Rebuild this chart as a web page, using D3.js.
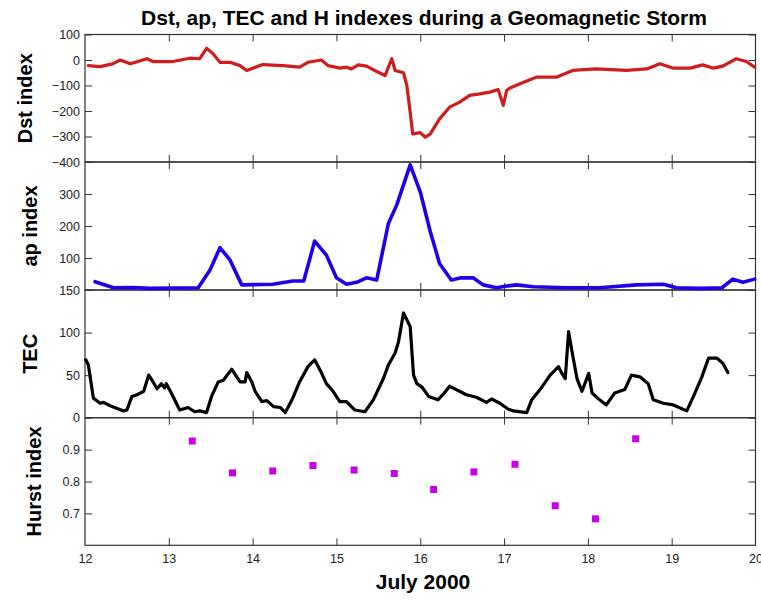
<!DOCTYPE html>
<html>
<head>
<meta charset="utf-8">
<style>
    body { margin: 0; background: #fff; }
    svg { display: block; font-family: Arial, "Liberation Sans", sans-serif; }
    .tick text { fill: #222; font-size: 12.5px; }
    .tick line { stroke: #333; }
    .frame { fill: none; stroke: #333; stroke-width: 1.2; }
    .ylab, .xlab, .title { font-weight: bold; fill: #000; }
</style>
</head>
<body>
<svg width="761" height="601"></svg>
<script src="https://cdn.jsdelivr.net/npm/d3@7"></script>
<script>
//---------------- DATA ----------------//
// days of July 2000
let dayTicks = [12, 13, 14, 15, 16, 17, 18, 19, 20];

let dstDay = [12.04, 12.18, 12.33, 12.42, 12.54, 12.74, 12.81, 13.05, 13.25, 13.37, 13.45, 13.53, 13.61, 13.73,
    13.85, 13.93, 14.12, 14.36, 14.56, 14.66, 14.82, 14.90, 15.04, 15.12, 15.18, 15.26, 15.36, 15.48, 15.58,
    15.66, 15.70, 15.80, 15.84, 15.88, 15.91, 16.00, 16.06, 16.12, 16.23, 16.35, 16.47, 16.59, 16.71, 16.83,
    16.93, 16.99, 17.03, 17.07, 17.19, 17.39, 17.63, 17.82, 18.10, 18.46, 18.70, 18.86, 19.02, 19.22, 19.37,
    19.50, 19.61, 19.77, 19.89, 19.99];
let dstVal = [-22, -26, -15, 0, -15, 5, -6, -6, 7, 5, 46, 24, -9, -9,
    -22, -41, -18, -22, -28, -9, 0, -22, -32, -28, -35, -19, -24, -45, -61,
    5, -41, -50, -100, -205, -290, -285, -303, -290, -231, -185, -165, -139, -133, -126,
    -116, -178, -120, -110, -93, -67, -67, -41, -35, -41, -35, -15, -32, -32, -19,
    -32, -24, 5, -6, -28];

let apDay = [12.12, 12.34, 12.57, 12.78, 13.35, 13.49, 13.61, 13.73, 13.87, 14.24, 14.48, 14.61, 14.74, 14.88,
    15.00, 15.12, 15.24, 15.36, 15.48, 15.62, 15.72, 15.88, 16.00, 16.12, 16.23, 16.37, 16.49, 16.63, 16.75,
    16.91, 17.05, 17.15, 17.35, 17.75, 18.14, 18.58, 18.90, 19.06, 19.34, 19.60, 19.73, 19.85, 19.99];
let apVal = [26, 7, 8, 5, 7, 62, 132, 94, 16, 18, 28, 28, 153, 109,
    38, 18, 24, 38, 31, 208, 266, 391, 307, 182, 83, 31, 38, 38, 16,
    7, 13, 16, 10, 7, 7, 16, 18, 7, 5, 7, 34, 24, 34];

let tecDay = [12.01, 12.04, 12.10, 12.18, 12.22, 12.30, 12.46, 12.50, 12.56, 12.62, 12.70, 12.76, 12.80, 12.86,
    12.91, 12.95, 12.97, 13.03, 13.13, 13.23, 13.31, 13.37, 13.45, 13.51, 13.59, 13.65, 13.75, 13.85, 13.91,
    13.93, 13.99, 14.03, 14.11, 14.17, 14.25, 14.33, 14.39, 14.47, 14.56, 14.66, 14.74, 14.82, 14.88, 14.96,
    15.04, 15.12, 15.22, 15.34, 15.44, 15.56, 15.62, 15.70, 15.74, 15.80, 15.84, 15.88, 15.92, 15.96, 16.02,
    16.10, 16.21, 16.27, 16.35, 16.43, 16.55, 16.67, 16.79, 16.85, 16.95, 17.05, 17.11, 17.27, 17.33, 17.43,
    17.55, 17.65, 17.69, 17.73, 17.77, 17.81, 17.87, 17.93, 18.01, 18.05, 18.14, 18.22, 18.32, 18.44, 18.52,
    18.62, 18.72, 18.78, 18.90, 19.02, 19.18, 19.26, 19.36, 19.44, 19.54, 19.61, 19.67];
let tecVal = [68, 62, 23, 17, 18, 14, 8, 9, 25, 27, 31, 50, 44, 34,
    40, 35, 40, 29, 9, 12, 7, 8, 6, 25, 42, 44, 57, 42, 42,
    53, 42, 31, 19, 20, 13, 12, 6, 21, 42, 60, 68, 53, 40, 31,
    19, 19, 9, 7, 21, 46, 62, 76, 89, 123, 115, 107, 50, 40, 36,
    25, 21, 27, 37, 33, 27, 24, 18, 22, 17, 10, 8, 6, 21, 33,
    50, 60, 52, 46, 101, 78, 46, 31, 52, 29, 21, 15, 29, 33, 50,
    48, 40, 21, 17, 15, 8, 25, 48, 70, 70, 64, 53];

let hurstDay = [13.28, 13.76, 14.24, 14.72, 15.21, 15.69, 16.16, 16.64, 17.13, 17.61, 18.09, 18.57];
let hurstVal = [0.927, 0.827, 0.833, 0.850, 0.836, 0.825, 0.775, 0.830, 0.854, 0.724, 0.683, 0.934];

let dstTicks = [100, 0, -100, -200, -300, -400];
let apTicks = [100, 200, 300];
let tecTicks = [0, 50, 100, 150];
let hurstTicks = [0.7, 0.8, 0.9];

//---------------- SCALES ----------------//
let svg = d3.select("svg");
svg.append("rect").attr("width", 761).attr("height", 601).attr("fill", "#fff");

let x = d3.scaleLinear().domain([12, 20]).range([85, 755.5]);

let panels = [
    {name: "Dst index", y: d3.scaleLinear().domain([-400, 100]).range([162, 34.5]), ticks: dstTicks, fmt: d3.format("d"), labX: 32},
    {name: "ap index", y: d3.scaleLinear().domain([0, 400]).range([290, 162]), ticks: apTicks, fmt: d3.format("d"), labX: 37},
    {name: "TEC", y: d3.scaleLinear().domain([0, 150]).range([417.7, 290]), ticks: tecTicks, fmt: d3.format("d"), labX: 37},
    {name: "Hurst index", y: d3.scaleLinear().domain([0.6, 1.0]).range([545.3, 417.7]), ticks: hurstTicks, fmt: d3.format(".1f"), labX: 41}
];

//---------------- AXES / FRAMES ----------------//
panels.forEach(function(p, i) {
    let top = p.y.range()[1], bot = p.y.range()[0];

    svg.append("rect").attr("class", "frame")
        .attr("x", x(12)).attr("y", top)
        .attr("width", x(20) - x(12)).attr("height", bot - top);

    svg.append("g").attr("transform", `translate(${x(12)},0)`)
        .call(d3.axisLeft(p.y).tickValues(p.ticks).tickSize(-7).tickPadding(5).tickFormat(p.fmt))
        .call(g => g.select(".domain").remove())
        .attr("font-size", null).attr("font-family", null);

    svg.append("g").attr("transform", `translate(${x(20)},0)`)
        .call(d3.axisRight(p.y).tickValues(p.ticks).tickSize(-7).tickFormat(""))
        .call(g => g.select(".domain").remove());

    svg.append("g").attr("transform", `translate(0,${top})`)
        .call(d3.axisTop(x).tickValues(dayTicks.slice(1, -1)).tickSize(-7).tickFormat(""))
        .call(g => g.select(".domain").remove());

    let bottomAxis = d3.axisBottom(x).tickValues(i == 3 ? dayTicks : dayTicks.slice(1, -1)).tickSize(-7).tickPadding(9);
    if (i != 3) bottomAxis.tickFormat("");
    svg.append("g").attr("transform", `translate(0,${bot})`)
        .call(bottomAxis)
        .call(g => g.select(".domain").remove())
        .call(g => g.selectAll(".tick line").filter(d => d == 12 || d == 20).remove())
        .attr("font-size", null).attr("font-family", null);

    svg.append("text").attr("class", "ylab")
        .attr("transform", `translate(${p.labX},${(top + bot) / 2}) rotate(-90)`)
        .attr("text-anchor", "middle")
        .attr("font-size", 20)
        .text(p.name);
});

//---------------- DATA MARKS ----------------//
function series(days, vals) {
    return days.map((d, i) => ({day: d, v: vals[i]}));
}

let drawLine = function(p, data, color, w) {
    let line = d3.line().x(d => x(d.day)).y(d => p.y(d.v));
    svg.append("path")
        .attr("d", line(data))
        .attr("fill", "none")
        .attr("stroke", color)
        .attr("stroke-width", w)
        .attr("stroke-linejoin", "round")
        .attr("stroke-linecap", "round");
};

drawLine(panels[0], series(dstDay, dstVal), "#cf1d1d", 3.2);
drawLine(panels[1], series(apDay, apVal), "#2000e8", 3.6);
drawLine(panels[2], series(tecDay, tecVal), "#000", 3.2);

svg.append("g").selectAll("rect")
    .data(series(hurstDay, hurstVal))
    .join("rect")
    .attr("x", d => x(d.day) - 3.5)
    .attr("y", d => panels[3].y(d.v) - 3.5)
    .attr("width", 7).attr("height", 7)
    .attr("fill", "#c800e6");

//---------------- TITLES ----------------//
svg.append("text").attr("class", "title")
    .attr("x", 424).attr("y", 25)
    .attr("text-anchor", "middle")
    .attr("font-size", 21)
    .text("Dst, ap, TEC and H indexes during a Geomagnetic Storm");

svg.append("text").attr("class", "xlab")
    .attr("x", 423).attr("y", 589)
    .attr("text-anchor", "middle")
    .attr("font-size", 21)
    .text("July 2000");
</script>
</body>
</html>
